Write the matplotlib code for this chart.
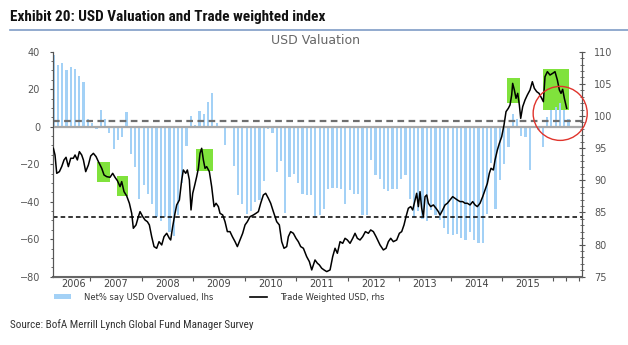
import numpy as np
import matplotlib
matplotlib.use("Agg")
import matplotlib.pyplot as plt
from matplotlib.patches import Rectangle, Ellipse, Patch
from matplotlib.lines import Line2D
from matplotlib.ticker import MultipleLocator
from matplotlib import font_manager

# Net % of fund managers saying USD is overvalued (lhs), monthly from Apr 2006
bar_values = [38, 33, 34, 30, 32, 31, 27, 24, 4, 2,
              -1.5, 9, 4, -3.5, -12, -7, -5.5, 8, -14.5, -21.5,
              -38.5, -31, -36, -41, -48, -50.5, -48, -56, -58.5, -47,
              -30, -10.5, 5.5, 1, 8.5, 7, 13, 18, 2, 0.5,
              -10, -0.5, -21, -36.5, -41, -46.5, -45, -40, -39, -29,
              -1, -3.5, -24, -18.5, -46, -27, -25, -30, -36, -36.5,
              -36.5, -47.5, -47, -44, -33, -32.5, -32.5, -33, -41, -34,
              -36, -36, -47, -47, -18, -26, -28, -33, -34.5, -33,
              -33, -28, -26, -38.5, -48, -45, -49, -50.5, -44.5, -47,
              -50, -54, -57, -58, -57, -59.5, -60.5, -56, -60.5, -62,
              -62, -46.5, -19.5, -44, -28.5, -20, -11, 7, 4, -5,
              -5.5, -23, 0.5, -2, -11, 5, 9, 10.5, 12.5, 9,
              4]
bar_dates = 2006 + (3.5 + np.arange(len(bar_values))) / 12.0  # mid-month

# Trade weighted USD (rhs), decimal year / index level
usd_t = [2006.288, 2006.320, 2006.353, 2006.405, 2006.450, 2006.495, 2006.534, 2006.579,
         2006.625, 2006.676, 2006.709, 2006.754, 2006.793, 2006.838, 2006.871, 2006.916,
         2006.968, 2007.013, 2007.065, 2007.117, 2007.162, 2007.227, 2007.272, 2007.324,
         2007.388, 2007.440, 2007.485, 2007.531, 2007.583, 2007.615, 2007.660, 2007.712,
         2007.764, 2007.809, 2007.841, 2007.893, 2007.939, 2007.971, 2008.023, 2008.068,
         2008.113, 2008.152, 2008.197, 2008.243, 2008.294, 2008.340, 2008.392, 2008.437,
         2008.489, 2008.540, 2008.566, 2008.605, 2008.650, 2008.683, 2008.735, 2008.780,
         2008.812, 2008.858, 2008.890, 2008.929, 2008.961, 2008.994, 2009.026, 2009.071,
         2009.104, 2009.136, 2009.168, 2009.201, 2009.233, 2009.265, 2009.317, 2009.362,
         2009.408, 2009.447, 2009.492, 2009.524, 2009.576, 2009.621, 2009.667, 2009.718,
         2009.764, 2009.816, 2009.861, 2009.913, 2009.964, 2010.010, 2010.055, 2010.107,
         2010.172, 2010.223, 2010.269, 2010.314, 2010.366, 2010.411, 2010.463, 2010.508,
         2010.560, 2010.625, 2010.676, 2010.722, 2010.767, 2010.819, 2010.851, 2010.896,
         2010.948, 2011.000, 2011.045, 2011.091,
         2011.143, 2011.207, 2011.259, 2011.305, 2011.369, 2011.415, 2011.453, 2011.499,
         2011.544, 2011.596, 2011.661, 2011.712, 2011.758, 2011.803, 2011.855, 2011.907,
         2011.952, 2011.997, 2012.049, 2012.101, 2012.146, 2012.191, 2012.243, 2012.295,
         2012.347, 2012.405, 2012.450, 2012.502, 2012.554, 2012.631, 2012.696, 2012.748,
         2012.793, 2012.839, 2012.890, 2012.955, 2013.007, 2013.052, 2013.097, 2013.136,
         2013.181, 2013.227, 2013.266, 2013.311, 2013.343, 2013.376, 2013.408, 2013.440,
         2013.473, 2013.505, 2013.538, 2013.570, 2013.615, 2013.667, 2013.719, 2013.764,
         2013.796, 2013.848, 2013.894, 2013.939, 2013.991, 2014.042, 2014.088, 2014.133,
         2014.185, 2014.237, 2014.282, 2014.327, 2014.379, 2014.431, 2014.476, 2014.521,
         2014.573, 2014.625, 2014.670, 2014.716, 2014.754, 2014.787, 2014.832, 2014.865,
         2014.910, 2014.949, 2014.994, 2015.039, 2015.078, 2015.123, 2015.156, 2015.188,
         2015.207, 2015.240, 2015.272, 2015.305, 2015.337, 2015.363, 2015.402, 2015.447,
         2015.492, 2015.544, 2015.589, 2015.628, 2015.674, 2015.719, 2015.771, 2015.803,
         2015.835, 2015.881, 2015.932, 2015.984, 2016.029, 2016.075, 2016.114, 2016.146,
         2016.178, 2016.211, 2016.256]
usd_v = [94.97, 93.93, 91.08, 91.34, 92.12, 93.16, 93.57, 92.12,
         93.42, 93.42, 93.93, 93.16, 94.45, 93.93, 93.16, 91.34,
         92.38, 93.78, 94.19, 93.68, 92.90, 91.86, 90.82, 90.56,
         90.46, 91.08, 90.46, 89.94, 89.01, 89.79, 88.23, 87.56,
         86.42, 84.86, 82.53, 83.05, 84.34, 85.12, 84.34, 83.82,
         83.56, 83.05, 81.23, 79.68, 79.42, 80.45, 79.94, 81.23,
         81.75, 80.97, 80.71, 82.79, 84.86, 86.16, 86.93, 90.04,
         91.60, 91.08, 91.60, 90.04, 85.38, 87.97, 89.01, 90.56,
         91.86, 94.19, 94.97, 93.16, 91.86, 92.12, 91.34, 89.01,
         85.90, 86.42, 85.90, 84.86, 84.60, 83.56, 82.01, 82.01,
         81.23, 80.45, 79.68, 80.71, 81.75, 83.05, 83.56, 84.34,
         84.60, 84.86, 85.12, 86.42, 87.71, 87.97, 87.19, 86.42,
         85.12, 83.56, 83.05, 80.45, 79.42, 79.68, 81.23, 82.01,
         81.75, 80.97, 80.45, 79.68,
         79.42, 78.12, 77.35, 76.05, 77.60, 77.09, 76.83, 76.31,
         76.05, 75.79, 76.05, 78.12, 79.42, 78.64, 80.45, 80.19,
         80.97, 80.71, 80.19, 80.97, 81.75, 80.97, 80.71, 81.23,
         82.01, 81.75, 82.27, 82.01, 81.23, 79.94, 79.16, 79.42,
         80.45, 80.97, 80.45, 80.71, 81.75, 82.01, 83.05, 84.34,
         85.64, 85.90, 85.38, 86.93, 87.97, 85.90, 88.23, 85.64,
         84.34, 87.45, 87.71, 86.42, 85.90, 86.16, 85.64, 85.12,
         84.60, 85.38, 86.16, 86.42, 86.93, 87.45, 87.19, 86.93,
         86.68, 86.68, 86.42, 86.42, 86.16, 86.68, 86.16, 85.90,
         86.42, 87.45, 88.49, 89.53, 91.08, 91.86, 91.60, 93.16,
         94.71, 95.75, 96.78, 98.60, 100.67, 101.19, 101.71, 103.26,
         105.07, 104.04, 102.74, 103.52, 101.71, 99.63, 101.45, 102.48,
         103.26, 104.04, 105.33, 104.30, 103.78, 103.52, 102.74, 102.22,
         106.11, 106.89, 106.37, 106.63, 106.89, 105.59, 104.04, 103.52,
         104.14, 102.74, 101.19]

# highlighted episodes (green boxes), in decimal years / rhs index
box_t0 = [2007.14, 2007.53, 2009.05, 2015.09, 2015.80]
box_t1 = [2007.38, 2007.74, 2009.39, 2015.35, 2016.31]
box_lo = [89.8, 87.6, 91.5, 102.0, 100.9]
box_hi = [92.9, 90.7, 94.9, 105.9, 107.3]

year_labels = [str(y) for y in range(2006, 2016)]
year_label_pos = [2006.68] + [y + 0.5 for y in range(2007, 2016)]
year_ticks = list(range(2007, 2017)) + [2016.25, 2016.5]

bar_color = '#a3d1f6'
green = '#80e23c'

# pick a condensed face if one is installed
installed = {f.name for f in font_manager.fontManager.ttflist}
if 'Liberation Sans Narrow' in installed:
    narrow, title_size, src_size = 'Liberation Sans Narrow', 11, 8
elif 'Roboto Condensed' in installed:
    narrow, title_size, src_size = 'Roboto Condensed', 11, 8
else:
    narrow, title_size, src_size = 'Roboto', 9, 7

fig = plt.figure(figsize=(6.28, 3.45), dpi=100)
ax = fig.add_axes([0.0849, 0.198, 0.8414, 0.6522])
ax2 = ax.twinx()

ax.bar(bar_dates, bar_values, width=0.52 / 12, color=bar_color, zorder=2)
ax.axhline(0, color='#a8a8a8', lw=1.6, zorder=3)
ax.axhline(3, color='#6e6e6e', lw=1.6, ls=(0, (3, 2)), zorder=3)

for t0, t1, lo, hi in zip(box_t0, box_t1, box_lo, box_hi):
    ax.add_patch(Rectangle((t0, lo), t1 - t0, hi - lo, facecolor=green,
                           edgecolor='none', transform=ax2.transData, zorder=1))

ax2.plot(usd_t, usd_v, color='black', lw=1.1, zorder=3)
ax2.axhline(84.25, color='black', lw=1.1, ls=(0, (3, 2)), zorder=2)
ax2.add_patch(Ellipse((2016.13, 100.4), 1.05, 8.4, fill=False,
                      edgecolor='#e0342c', lw=1.0, clip_on=False, zorder=5))

ax.set_xlim(2006.287, 2016.548)
ax.set_ylim(-80, 40)
ax2.set_ylim(75, 110)

ax.set_yticks(range(-80, 41, 20))
ax.yaxis.set_minor_locator(MultipleLocator(5))
ax2.set_yticks(range(75, 111, 5))
ax2.yaxis.set_minor_locator(MultipleLocator(1))

ax.set_xticks(year_ticks, [''] * len(year_ticks))
ax.set_xticks(year_label_pos, year_labels, minor=True)

ax.tick_params(axis='x', which='major', direction='out', length=3, width=0.8, color='#555')
ax.tick_params(axis='x', which='minor', length=0, pad=1.5, labelsize=7, labelcolor='#444')
ax.tick_params(axis='y', which='major', direction='out', length=2.5, width=0.8,
               color='#555', labelsize=7, labelcolor='#555', pad=7)
ax.tick_params(axis='y', which='minor', direction='out', length=1.5, width=0.6, color='#555')
ax2.tick_params(axis='y', which='major', direction='inout', length=4, width=0.8,
                color='#555', labelsize=7, labelcolor='#555', pad=7)
ax2.tick_params(axis='y', which='minor', direction='inout', length=2.5, width=0.6, color='#555')

for a in (ax, ax2):
    a.spines['top'].set_visible(False)
    a.spines['left'].set_color('#555')
    a.spines['right'].set_color('#555')
    a.spines['bottom'].set_color('#666')
ax.spines['bottom'].set_linewidth(1.5)

fig.text(10 / 628, 1 - 17 / 345, 'Exhibit 20: USD Valuation and Trade weighted index',
         fontsize=title_size, fontweight='bold', family=narrow, va='center', color='#111')
fig.add_artist(Line2D([10 / 628, 1.0], [1 - 30 / 345] * 2, color='#7f9cc6', lw=1.2))
fig.text(315 / 628, 1 - 40 / 345, 'USD Valuation', fontsize=9, color='#666',
         ha='center', va='center')
fig.text(10 / 628, 1 - 325 / 345, 'Source: BofA Merrill Lynch Global Fund Manager Survey',
         fontsize=src_size, family=narrow, va='center', color='#333')

handles = [Patch(facecolor=bar_color, edgecolor='none'),
           Line2D([], [], color='black', lw=1.2)]
leg = fig.legend(handles, ['Net% say USD Overvalued, lhs', 'Trade Weighted USD, rhs'],
                 loc='center left', bbox_to_anchor=(54 / 628, 1 - 297 / 345), ncol=2,
                 frameon=False, fontsize=6, handlelength=2.0, handleheight=0.6,
                 handletextpad=1.6, columnspacing=4.4, borderaxespad=0, borderpad=0)
for txt in leg.get_texts():
    txt.set_color('#333')

fig.savefig('out.png', dpi=100)
